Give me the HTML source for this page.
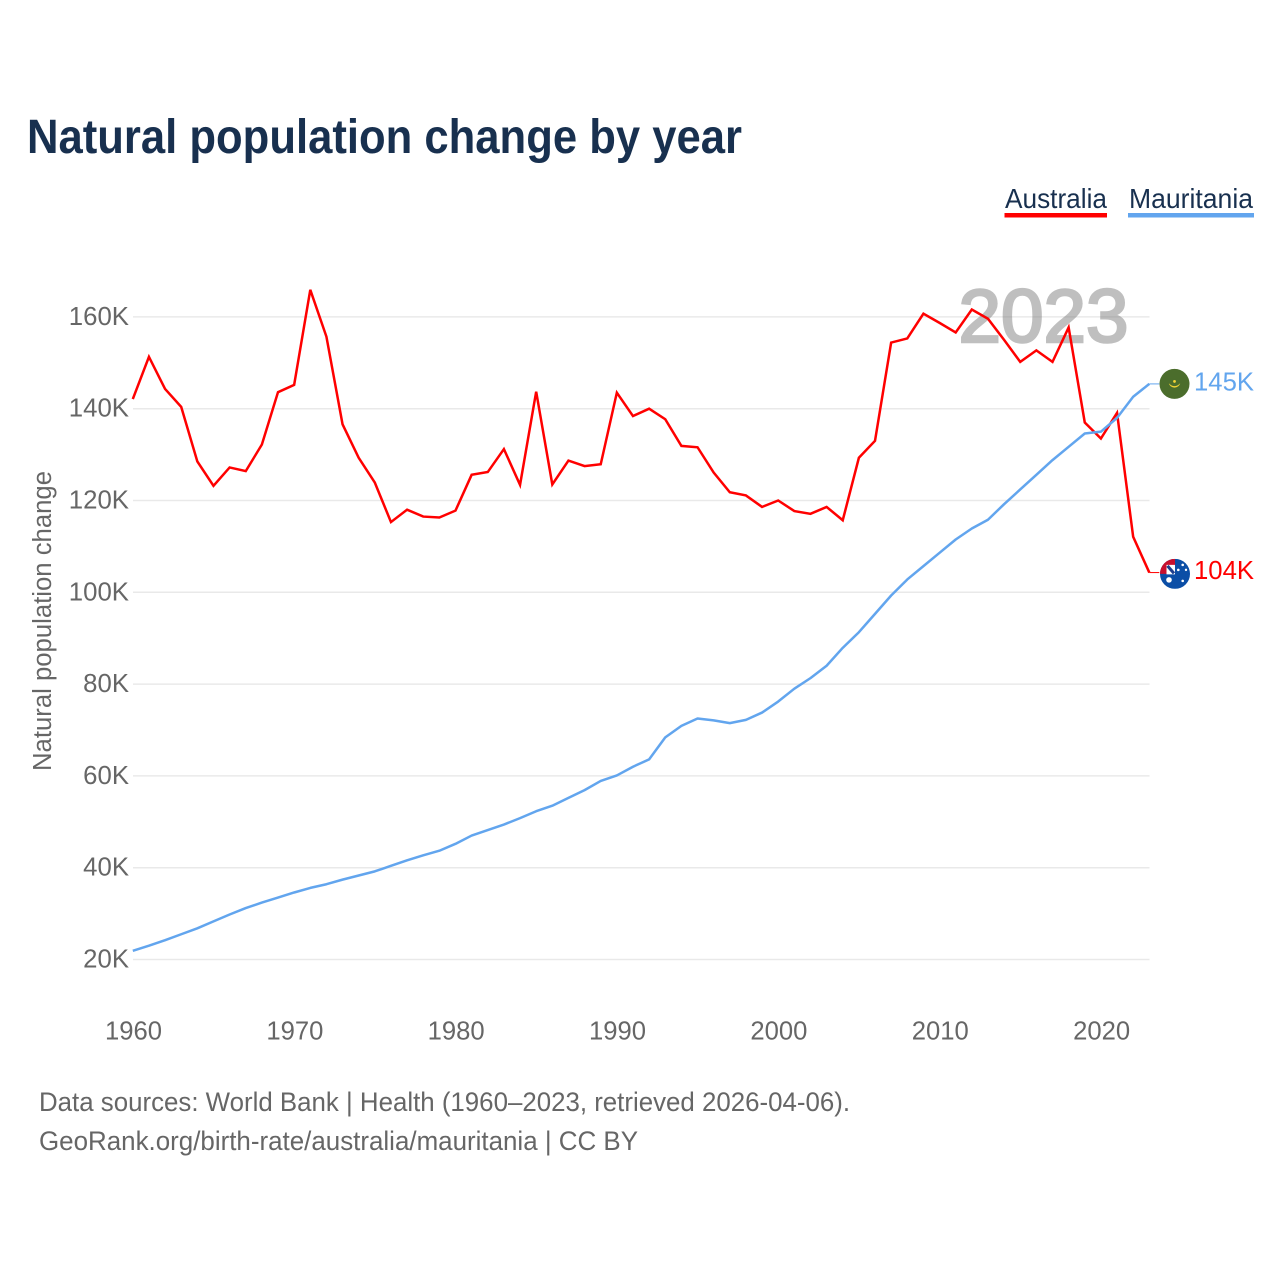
<!DOCTYPE html>
<html lang="en">
<head>
<meta charset="utf-8">
<title>Natural population change by year</title>
<style>
html,body{margin:0;padding:0;background:#fff;}
svg{display:block;font-family:"Liberation Sans",sans-serif;}
</style>
</head>
<body>
<svg id="chart" xmlns="http://www.w3.org/2000/svg" width="1280" height="1280" viewBox="0 0 1280 1280">
  <rect x="0" y="0" width="1280" height="1280" fill="#fff"/>
  <text x="27" y="153" font-size="48" font-weight="700" fill="#18304f" textLength="715" lengthAdjust="spacingAndGlyphs">Natural population change by year</text>

  <g>
    <text x="1005" y="208" font-size="27.5" fill="#18304f" textLength="102" lengthAdjust="spacingAndGlyphs">Australia</text>
    <rect x="1004.5" y="213" width="102.5" height="4.5" fill="#ff0000"/>
  </g>
  <g>
    <text x="1129" y="208" font-size="27.5" fill="#18304f" textLength="124" lengthAdjust="spacingAndGlyphs">Mauritania</text>
    <rect x="1128" y="213" width="126" height="4.5" fill="#62a5ee"/>
  </g>

  <g id="grid"></g>
  <g opacity="0.5">
    <text x="958.5" y="342" font-size="75.5" font-weight="400" fill="#808080" stroke="#808080" stroke-width="2.6" textLength="170" lengthAdjust="spacingAndGlyphs">2023</text>
  </g>
  <g id="yTicks"></g>
  <g id="xTicks"></g>
  <text transform="translate(51,621) rotate(-90)" text-anchor="middle" font-size="25.5" fill="#666" textLength="300" lengthAdjust="spacingAndGlyphs">Natural population change</text>

  <g id="series"></g>

  <defs>
    <clipPath id="flagClip"><circle cx="0" cy="0" r="15"/></clipPath>
  </defs>
  <g id="flagMauritania">
    <circle cx="0" cy="0" r="15" fill="#4b6d2c"/>
    <path d="M-5.7 -0.7 A5.9 5.9 0 0 0 5.7 -0.7 Q0 5.2 -5.7 -0.7Z" fill="#f2d335"/>
    <circle cx="0" cy="-2.5" r="1.4" fill="#f2d335"/>
  </g>
  <g id="flagAustralia">
    <g clip-path="url(#flagClip)">
      <rect x="-15" y="-15" width="30" height="30" fill="#0b4ea6"/>
      <rect x="-15" y="-15" width="15" height="15" fill="#c8102e"/>
      <rect x="-8.5" y="-9" width="8.5" height="9.5" fill="#fff"/>
      <path d="M-7.5 -8 L-1 -0.5" stroke="#1d3f8f" stroke-width="3"/>
    </g>
    <g fill="#fff">
      <circle cx="-6" cy="6" r="2.8"/>
      <circle cx="3.3" cy="-4" r="1.3"/>
      <circle cx="7.7" cy="-9" r="1.3"/>
      <circle cx="11" cy="-4" r="1.2"/>
      <circle cx="7.7" cy="7" r="1.3"/>
    </g>
  </g>
  <g id="endLabels"></g>

  <text x="39" y="1111" font-size="26.5" fill="#666" textLength="811" lengthAdjust="spacingAndGlyphs">Data sources: World Bank | Health (1960–2023, retrieved 2026-04-06).</text>
  <text x="39" y="1150" font-size="26.5" fill="#666" textLength="599" lengthAdjust="spacingAndGlyphs">GeoRank.org/birth-rate/australia/mauritania | CC BY</text>
</svg>
<script>
const firstYear = 1960;
const australia = [142.1,151.3,144.3,140.4,128.5,123.2,127.2,126.4,132.2,143.6,145.2,165.9,155.7,136.6,129.3,123.9,115.3,118,116.5,116.3,117.8,125.6,126.2,131.2,123.4,143.7,123.5,128.7,127.5,127.9,143.5,138.4,140,137.7,131.9,131.6,126.1,121.8,121.1,118.6,120,117.7,117.1,118.6,115.7,129.3,133,154.4,155.3,160.7,158.7,156.6,161.6,159.6,155,150.2,152.7,150.2,157.7,137,133.5,139.1,112.1,104.3];
const mauritania = [21.9,23,24.2,25.5,26.8,28.3,29.8,31.2,32.4,33.5,34.6,35.6,36.4,37.4,38.3,39.2,40.4,41.6,42.7,43.7,45.2,47,48.2,49.4,50.8,52.3,53.5,55.2,56.9,58.9,60.1,62,63.6,68.4,70.9,72.5,72.1,71.5,72.2,73.8,76.2,79,81.3,84,87.9,91.3,95.3,99.3,102.8,105.7,108.6,111.5,113.9,115.8,119.2,122.4,125.6,128.8,131.7,134.6,135,138,142.6,145.4];
const yTickValues = [20,40,60,80,100,120,140,160];
const xTickValues = [1960,1970,1980,1990,2000,2010,2020];

const NS = 'http://www.w3.org/2000/svg';
function xScale(year){ return 132.8 + (year - 1960) * 16.135; }
function yScale(v){ return 959.5 - (v - 20) * 4.59; }
function make(tag, attrs, parent){
  const el = document.createElementNS(NS, tag);
  for (const k in attrs) el.setAttribute(k, attrs[k]);
  parent.appendChild(el);
  return el;
}
const lastX = xScale(firstYear + australia.length - 1);

const gridG = document.getElementById('grid');
const yG = document.getElementById('yTicks');
yTickValues.forEach(function(v){
  const line = make('line', {x1:133, x2:1149.5, y1:yScale(v), y2:yScale(v), stroke:'#e9e9e9', 'stroke-width':1.5}, gridG);
  
  
  const label = String(v) + 'K';
  const t = make('text', {x:129, y:yScale(v)+8, 'text-anchor':'end', 'font-size':25.5, fill:'#666',
    textLength:(label.length-1)*14.4+17, lengthAdjust:'spacingAndGlyphs'}, yG);
  t.textContent = label;
  
  
});

const xG = document.getElementById('xTicks');
xTickValues.forEach(function(y){
  const t = make('text', {x:xScale(y)+0.7, y:1039.5, 'text-anchor':'middle', 'font-size':25.5, fill:'#666',
    textLength:57, lengthAdjust:'spacingAndGlyphs'}, xG);
  t.textContent = String(y);
  
  
});

function pointsOf(values){
  return values.map(function(v,i){ return xScale(firstYear+i).toFixed(2)+','+yScale(v).toFixed(2); }).join(' ');
}
const seriesG = document.getElementById('series');

const lineAu = make('polyline', {points:pointsOf(australia), fill:'none', stroke:'#ff0000', 'stroke-width':2.5, 'stroke-linejoin':'miter'}, seriesG);


const lineMr = make('polyline', {points:pointsOf(mauritania), fill:'none', stroke:'#62a5ee', 'stroke-width':2.5, 'stroke-linejoin':'round'}, seriesG);



const lastAu = australia[australia.length-1];
const lastMr = mauritania[mauritania.length-1];
const connAu = make('line', {x1:lastX, x2:lastX+10, y1:yScale(lastAu), y2:yScale(lastAu), stroke:'#ff0000', 'stroke-width':1}, seriesG);


const connMr = make('line', {x1:lastX, x2:lastX+10, y1:yScale(lastMr), y2:yScale(lastMr), stroke:'#62a5ee', 'stroke-width':1}, seriesG);



document.getElementById('flagMauritania').setAttribute('transform', 'translate(1174.5,'+yScale(lastMr)+')');
document.getElementById('flagAustralia').setAttribute('transform', 'translate(1175,'+(yScale(lastAu)+1.3)+')');

const endG = document.getElementById('endLabels');
const endMr = make('text', {x:1194, y:yScale(lastMr)+6.5, 'font-size':26, fill:'#62a5ee', textLength:60, lengthAdjust:'spacingAndGlyphs'}, endG);
endMr.textContent = Math.round(lastMr) + 'K';


const endAu = make('text', {x:1194, y:yScale(lastAu)+6.5, 'font-size':26, fill:'#ff0000', textLength:60, lengthAdjust:'spacingAndGlyphs'}, endG);
endAu.textContent = Math.round(lastAu) + 'K';


</script>
</body>
</html>
